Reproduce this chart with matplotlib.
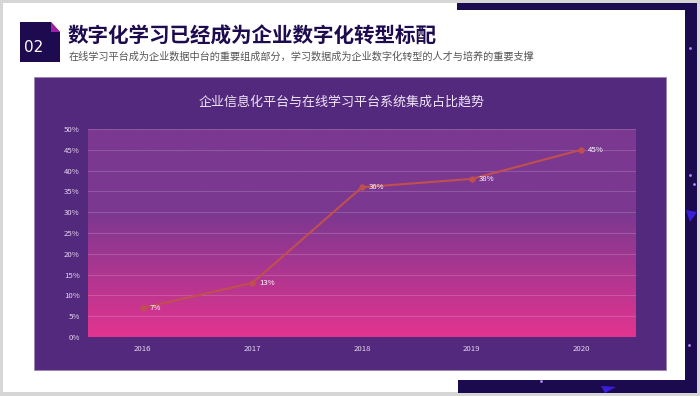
import matplotlib
matplotlib.use("Agg")
import matplotlib.pyplot as plt
from matplotlib.patches import Rectangle, Polygon
import numpy as np

plt.rcParams['font.family'] = ['Noto Sans CJK SC', 'DejaVu Sans']

years = ["2016", "2017", "2018", "2019", "2020"]
share = [7, 13, 36, 38, 45]
yticks = [0, 5, 10, 15, 20, 25, 30, 35, 40, 45, 50]

title = "数字化学习已经成为企业数字化转型标配"
subtitle = "在线学习平台成为企业数据中台的重要组成部分，学习数据成为企业数字化转型的人才与培养的重要支撑"
chart_title = "企业信息化平台与在线学习平台系统集成占比趋势"

W, H = 700, 396
fig = plt.figure(figsize=(W / 100, H / 100), dpi=100)
fig.patch.set_facecolor("white")


def px_axes(x0, y0, x1, y1, **kw):
    # pixel box (top-left origin) -> figure axes
    return fig.add_axes([x0 / W, 1 - y1 / H, (x1 - x0) / W, (y1 - y0) / H], **kw)


# background decoration layer
bg = px_axes(0, 0, W, H)
bg.set_xlim(0, W)
bg.set_ylim(H, 0)
bg.axis("off")
# light grey slide border
bg.add_patch(Rectangle((0, 0), W, H, fc="#d6d6d6", ec="none"))
bg.add_patch(Rectangle((3, 3), W - 6, H - 7, fc="white", ec="none"))
# dark frame top / right / bottom
navy = "#1c0a4f"
bg.add_patch(Rectangle((457, 3), 240, 7, fc=navy, ec="none"))
bg.add_patch(Rectangle((685, 3), 12, 390, fc=navy, ec="none"))
bg.add_patch(Rectangle((458, 380), 239, 13, fc=navy, ec="none"))
for x, y in [(690, 175), (694, 184), (689, 345), (541, 381), (690, 48)]:
    bg.plot(x, y, "o", ms=2, color="#b48cff", mec="none")
bg.add_patch(Polygon([[601, 386], [616, 387], [605, 393]], fc="#3a1fd9", ec="none"))
bg.add_patch(Polygon([[686, 210], [697, 212], [690, 222]], fc="#3a1fd9", ec="none"))
# number box with folded corner
bg.add_patch(Polygon([[20, 22], [51, 22], [60, 32], [60, 62], [20, 62]],
                     fc="#1e0a4e", ec="none"))
bg.add_patch(Polygon([[51, 22], [60, 32], [51, 32]], fc="#a020a8", ec="none"))
bg.text(34, 48, "02", color="white", fontsize=11, ha="center", va="center",
        family=["DejaVu Sans"])
bg.text(68, 36, title, color="#1e0a4e", fontsize=14.8, fontweight="bold",
        ha="left", va="center")
bg.text(69, 57, subtitle, color="#555555", fontsize=7.3, ha="left", va="center")
# chart panel
bg.add_patch(Rectangle((34, 77), 632, 293, fc="#53297e", ec="#9b85b8", lw=0.6))
bg.text(342, 102, chart_title, color="#f0e6f5", fontsize=9.4, ha="center", va="center")

# plot area
ax = px_axes(88, 129, 636, 337)
x = np.arange(len(years))
ax.set_xlim(-0.5, len(years) - 0.5)
ax.set_ylim(0, 50)

top = np.array([123, 56, 145]) / 255
bot = np.array([226, 52, 143]) / 255
t = np.linspace(0, 1, 256)[:, None]
mix = np.clip(t / 0.6, 0, 1)  # pink at bottom -> purple at 60% height
grad = bot + (top - bot) * mix[..., None]
grad = np.repeat(grad, 2, axis=1)
ax.imshow(grad, extent=[-0.5, len(years) - 0.5, 0, 50], origin="lower",
          aspect="auto", zorder=0)

for v in yticks[1:]:
    ax.axhline(v, color="white", alpha=0.16, lw=0.8, zorder=1)

ax.plot(x, share, color="#c0504d", lw=1.5, marker="o", ms=3.5, zorder=3)
for xi, v in zip(x, share):
    ax.annotate(f"{v}%", (xi, v), xytext=(5, 0), textcoords="offset points",
                color="white", fontsize=5.6, va="center", ha="left", zorder=4)

ax.set_xticks(x)
ax.set_xticklabels(years)
ax.set_yticks(yticks)
ax.set_yticklabels([f"{v}%" for v in yticks])
ax.tick_params(length=0, colors="#e6d8ee", labelsize=5.6, pad=6)
for s in ax.spines.values():
    s.set_visible(False)

fig.savefig("out.png", dpi=100, facecolor="white")
